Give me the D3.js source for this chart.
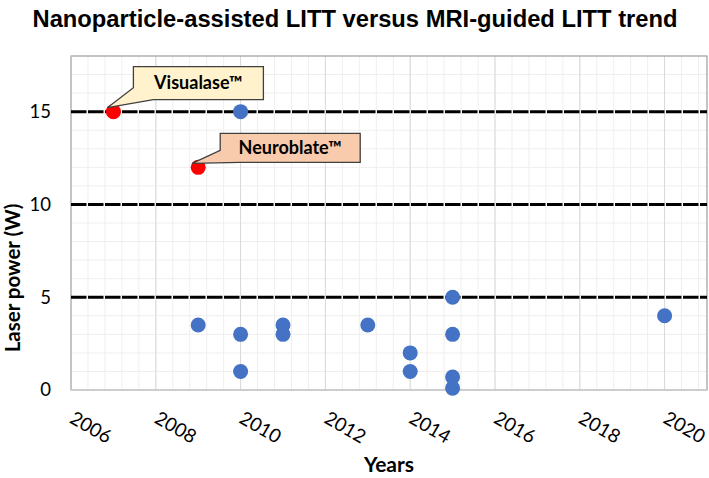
<!DOCTYPE html>
<html>
<head>
<meta charset="utf-8">
<script src="https://d3js.org/d3.v7.min.js"></script>
<style>
    body { margin: 0; background: #fff; }
    text { font-family: Lato, "Open Sans", sans-serif; }
</style>
</head>
<body>
<div id="chart"></div>
<script>
    // nanoparticle-assisted LITT studies
    const nanoYears = [2009, 2010, 2010, 2010, 2011, 2011, 2013, 2014, 2014, 2015, 2015, 2015, 2015, 2020];
    const nanoPower = [3.5, 15, 3, 1, 3.5, 3, 3.5, 2, 1, 5, 3, 0.7, 0.1, 4];

    // MRI-guided LITT systems
    const mriYears = [2007, 2009];
    const mriPower = [15, 12];
    const mriLabels = ["Visualase™", "Neuroblate™"];

    const refLevels = [5, 10, 15];
    const xTicks = [2006, 2008, 2010, 2012, 2014, 2016, 2018, 2020];
    const yTicks = [0, 5, 10, 15];

    const width = 709, height = 478;
    const margin = { top: 56, right: 2, bottom: 88, left: 71 };

    const svg = d3.select("#chart").append("svg")
        .attr("width", width)
        .attr("height", height);

    const x = d3.scaleLinear().domain([2006, 2021]).range([margin.left, width - margin.right]);
    const y = d3.scaleLinear().domain([0, 18]).range([height - margin.bottom, margin.top]);

    // title
    svg.append("text")
        .attr("x", 355)
        .attr("y", 27)
        .attr("text-anchor", "middle")
        .style("font-family", "'Liberation Sans', Arial, sans-serif")
        .attr("font-weight", "bold")
        .attr("font-size", 23.5)
        .attr("textLength", 645)
        .attr("lengthAdjust", "spacingAndGlyphs")
        .attr("fill", "#000")
        .text("Nanoparticle-assisted LITT versus MRI-guided LITT trend");

    const grid = svg.append("g");

    // minor grid
    grid.selectAll("line.xminor")
        .data(d3.range(0, 38).map(i => 2006 + i * 0.4))
        .join("line")
        .attr("x1", d => x(d)).attr("x2", d => x(d))
        .attr("y1", y(0)).attr("y2", y(18))
        .attr("stroke", "#efefef");

    grid.selectAll("line.yminor")
        .data(d3.range(1, 18))
        .join("line")
        .attr("x1", x(2006)).attr("x2", x(2021))
        .attr("y1", d => y(d)).attr("y2", d => y(d))
        .attr("stroke", "#efefef");

    // major grid
    grid.selectAll("line.xmajor")
        .data(xTicks)
        .join("line")
        .attr("x1", d => x(d)).attr("x2", d => x(d))
        .attr("y1", y(0)).attr("y2", y(18))
        .attr("stroke", "#d9d9d9");

    // plot border
    svg.append("rect")
        .attr("x", x(2006)).attr("y", y(18))
        .attr("width", x(2021) - x(2006))
        .attr("height", y(0) - y(18))
        .attr("fill", "none")
        .attr("stroke", "#8a8a8a");

    svg.append("line")
        .attr("x1", x(2006)).attr("x2", x(2006))
        .attr("y1", y(0)).attr("y2", y(18))
        .attr("stroke", "#d0d0d0");
    svg.append("line")
        .attr("x1", x(2006)).attr("x2", x(2021))
        .attr("y1", y(0)).attr("y2", y(0))
        .attr("stroke", "#d0d0d0").attr("stroke-width", 1.5);

    // dashed reference levels
    svg.append("g")
        .selectAll("line")
        .data(refLevels)
        .join("line")
        .attr("x1", x(2006)).attr("x2", x(2021))
        .attr("y1", d => y(d)).attr("y2", d => y(d))
        .attr("stroke", "#000")
        .attr("stroke-width", 3)
        .attr("stroke-dasharray", "15.5 1.5");

    // axes
    const yAxis = svg.append("g")
        .attr("transform", `translate(${x(2006)},0)`)
        .call(d3.axisLeft(y).tickValues(yTicks).tickSize(0).tickPadding(20));
    yAxis.select(".domain").remove();
    yAxis.selectAll("text")
        .attr("font-size", 18.5)
        .attr("fill", "#000")
        .style("font-family", "Lato, sans-serif");

    const xAxis = svg.append("g")
        .attr("transform", `translate(0,${y(0)})`)
        .call(d3.axisBottom(x).tickValues(xTicks).tickFormat(d3.format("d")).tickSize(0));
    xAxis.select(".domain").remove();
    xAxis.selectAll("text")
        .attr("font-size", 19)
        .attr("fill", "#000")
        .attr("text-anchor", "start")
        .attr("x", 0).attr("y", 0).attr("dy", 0)
        .attr("transform", "translate(-3,32) rotate(30)")
        .style("font-family", "Lato, sans-serif");

    // axis titles
    svg.append("text")
        .attr("transform", "translate(20,278) rotate(-90)")
        .attr("text-anchor", "middle")
        .attr("font-weight", "bold")
        .attr("font-size", 20.5)
        .text("Laser power (W)");

    svg.append("text")
        .attr("x", 389)
        .attr("y", 472)
        .attr("text-anchor", "middle")
        .attr("font-weight", "bold")
        .attr("font-size", 21)
        .text("Years");

    // nanoparticle points
    svg.append("g")
        .selectAll("circle")
        .data(nanoYears.map((yr, i) => ({ yr, p: nanoPower[i] })))
        .join("circle")
        .attr("cx", d => x(d.yr))
        .attr("cy", d => y(d.p))
        .attr("r", 7.5)
        .attr("fill", "#4472c4");

    // MRI-guided points
    const mri = mriYears.map((yr, i) => ({ yr, p: mriPower[i], label: mriLabels[i] }));
    svg.append("g")
        .selectAll("circle")
        .data(mri)
        .join("circle")
        .attr("cx", d => x(d.yr))
        .attr("cy", d => y(d.p))
        .attr("r", 7.5)
        .attr("fill", "#ff0000");

    // callouts
    const boxes = [
        { dx: 20, dy: -45, w: 130, h: 33, fill: "#fff2cc" },
        { dx: 22, dy: -34, w: 140, h: 29, fill: "#f8cbad" }
    ];
    const callouts = svg.append("g");
    mri.forEach((d, i) => {
        const b = boxes[i];
        const cx = x(d.yr), cy = y(d.p);
        const tipX = cx - 6, tipY = cy - 4;
        const l = cx + b.dx, t = cy + b.dy, r = l + b.w, btm = t + b.h;
        const path = d3.path();
        path.moveTo(l, t);
        path.lineTo(r, t);
        path.lineTo(r, btm);
        path.lineTo(l + 20, btm);
        path.lineTo(tipX, tipY);
        path.lineTo(l, btm - 12);
        path.closePath();
        callouts.append("path")
            .attr("d", path.toString())
            .attr("fill", b.fill)
            .attr("stroke", "#404040")
            .attr("stroke-width", 1.3);
        callouts.append("text")
            .attr("x", (l + r) / 2)
            .attr("y", (t + btm) / 2)
            .attr("dy", "0.35em")
            .attr("text-anchor", "middle")
            .attr("font-weight", "bold")
            .attr("font-size", 18)
            .text(d.label);
    });
</script>
</body>
</html>
